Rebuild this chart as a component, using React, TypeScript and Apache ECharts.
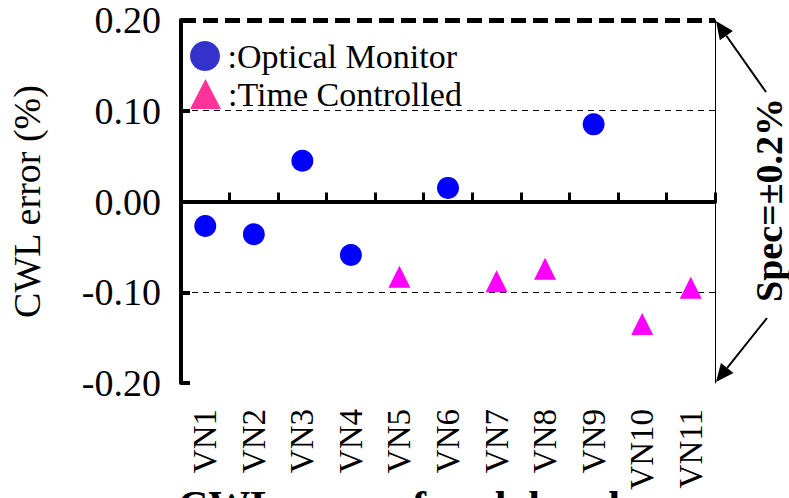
import React, { useEffect, useRef } from "react";
import * as echarts from "echarts";

const categories = ["VN1", "VN2", "VN3", "VN4", "VN5", "VN6", "VN7", "VN8", "VN9", "VN10", "VN11"];
const opticalMonitor = [-0.027, -0.036, 0.045, -0.059, null, 0.015, null, null, 0.085, null, null];
const timeControlled = [null, null, null, null, -0.083, null, -0.088, -0.074, null, -0.135, -0.095];
const yMin = -0.2;
const yMax = 0.2;
const yStep = 0.1;
const seriesNames = ["Optical Monitor", "Time Controlled"];
const specText = "Spec=\u00B10.2%";
const yName = "CWL error (%)";
const bottomTitle = "CWL error of each band";

const W = 789;
const H = 498;
const G = { left: 177, right: 74, top: 20, bottom: 115 };
const SERIF = "'Liberation Serif', 'Times New Roman', serif";

function arrow(tail: number[], tip: number[], len: number, half: number) {
  const dx = tip[0] - tail[0];
  const dy = tip[1] - tail[1];
  const d = Math.sqrt(dx * dx + dy * dy);
  const ux = dx / d;
  const uy = dy / d;
  const bx = tip[0] - ux * len;
  const by = tip[1] - uy * len;
  const nx = -uy;
  const ny = ux;
  return [
    {
      type: "line",
      shape: { x1: tail[0], y1: tail[1], x2: bx, y2: by },
      style: { stroke: "#000", lineWidth: 2 },
      silent: true,
    },
    {
      type: "polygon",
      shape: {
        points: [
          [tip[0], tip[1]],
          [bx + nx * half, by + ny * half],
          [bx - nx * half, by - ny * half],
        ],
      },
      style: { fill: "#000" },
      silent: true,
    },
  ];
}

const legendBase = {
  orient: "vertical",
  left: 185,
  itemWidth: 31,
  itemHeight: 30,
  selectedMode: false,
  formatter: ":{name}",
  textStyle: { fontFamily: SERIF, fontSize: 34, color: "#000", padding: [0, 0, 0, 2] },
};

export default function App() {
  const ref = useRef<HTMLDivElement>(null);
  useEffect(() => {
    if (!ref.current) return;
    const chart = echarts.init(ref.current, null, { renderer: "svg" });
    const gx1 = W - G.right;
    const gy0 = G.top;
    const gy1 = H - G.bottom;
    const option: any = {
      animation: false,
      backgroundColor: "#fff",
      grid: { left: G.left, right: G.right, top: G.top, bottom: G.bottom },
      legend: [
        {
          ...legendBase,
          top: 34,
          data: [{ name: seriesNames[0], icon: "circle", itemStyle: { color: "#3333CC", opacity: 1 } }],
        },
        {
          ...legendBase,
          top: 72,
          data: [{ name: seriesNames[1], icon: "triangle", itemStyle: { color: "#FF3399", opacity: 1 } }],
        },
      ],
      xAxis: {
        type: "category",
        data: categories,
        boundaryGap: true,
        axisLine: { show: true, lineStyle: { color: "#000", width: 4 } },
        axisTick: { show: true, inside: true, length: 9, alignWithLabel: false, lineStyle: { color: "#000", width: 3 } },
        axisLabel: { rotate: 90, interval: 0, margin: 26, fontFamily: SERIF, fontSize: 33, color: "#000" },
        splitLine: { show: false },
      },
      yAxis: [
        {
          type: "value",
          min: yMin,
          max: yMax,
          interval: yStep,
          name: yName,
          nameLocation: "middle",
          nameRotate: 90,
          nameGap: 135,
          nameTextStyle: { fontFamily: SERIF, fontSize: 38, color: "#000" },
          axisLine: { show: true, lineStyle: { color: "#000", width: 4 } },
          axisTick: { show: true, inside: true, length: 9, lineStyle: { color: "#000", width: 4 } },
          axisLabel: {
            margin: 20,
            fontFamily: SERIF,
            fontSize: 38,
            lineHeight: 34,
            color: "#000",
            formatter: (v: number) => v.toFixed(2),
          },
          splitLine: { show: false },
        },
        {
          type: "value",
          min: yMin,
          max: yMax,
          interval: yStep,
          position: "right",
          axisLine: { show: true, lineStyle: { color: "#000", width: 1 } },
          axisTick: { show: false },
          axisLabel: { show: false },
          splitLine: { show: false },
        },
      ],
      series: [
        {
          name: seriesNames[0],
          type: "scatter",
          symbol: "circle",
          symbolSize: 22,
          itemStyle: { color: "#0000FF", opacity: 1 },
          data: opticalMonitor.map((v) => (v === null ? "-" : v)),
          markLine: {
            silent: true,
            symbol: ["none", "none"],
            label: { show: false },
            z: 1,
            data: [
              { yAxis: yStep, lineStyle: { color: "#000", width: 1, type: [6, 5] } },
              { yAxis: -yStep, lineStyle: { color: "#000", width: 1, type: [6, 5] } },
              { yAxis: 0, lineStyle: { color: "#000", width: 4, type: "solid" } },
              { yAxis: yMax, lineStyle: { color: "#000", width: 5, type: [15, 7] } },
            ],
          },
        },
        {
          name: seriesNames[1],
          type: "scatter",
          symbol: "triangle",
          symbolSize: [22, 22],
          itemStyle: { color: "#FF00FF", opacity: 1 },
          data: timeControlled.map((v) => (v === null ? "-" : v)),
        },
      ],
      graphic: [
        ...arrow([766, 92], [gx1 + 1, gy0 + 1], 18, 8),
        ...arrow([767, 318], [gx1 + 1, gy1 - 1], 18, 8),
        {
          type: "text",
          x: 769,
          y: 200,
          rotation: Math.PI / 2,
          style: {
            text: specText,
            fontFamily: SERIF,
            fontWeight: "bold",
            fontSize: 38,
            fill: "#000",
            align: "center",
            verticalAlign: "middle",
          },
          silent: true,
        },
        {
          type: "text",
          x: 178,
          y: 506,
          style: {
            text: bottomTitle,
            fontFamily: SERIF,
            fontWeight: "bold",
            fontSize: 42,
            fill: "#000",
            align: "left",
            verticalAlign: "middle",
          },
          silent: true,
        },
      ],
    };
    chart.setOption(option);
    return () => chart.dispose();
  }, []);
  return (
    <div
      ref={ref}
      style={{ position: "fixed", left: 0, top: 0, width: W, height: H, background: "#fff" }}
    />
  );
}
